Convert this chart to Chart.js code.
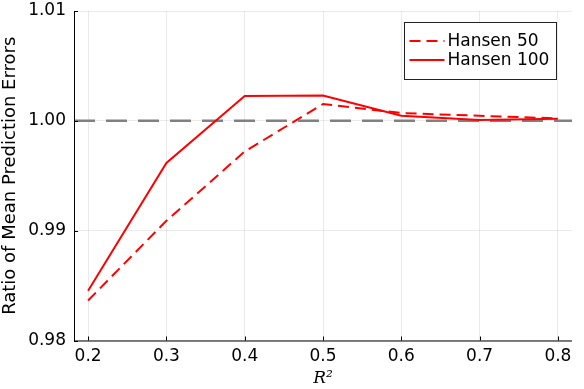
<!DOCTYPE html>
<html>
<head>
<meta charset="utf-8">
<script src="https://cdn.jsdelivr.net/npm/chart.js@4"></script>
<style>
  html, body { margin: 0; padding: 0; background: #fff; }
  #wrap { width: 584px; height: 389px; }
</style>
</head>
<body>
<div id="wrap"><canvas id="grafico"></canvas></div>
<script>
const rSquared = [0.2, 0.3, 0.4, 0.5, 0.6, 0.7, 0.8];
const hansen50 = [0.98364, 0.99090, 0.99721, 1.00153, 1.00071, 1.00046, 1.00022];
const hansen100 = [0.98453, 0.99616, 1.00226, 1.00231, 1.00046, 1.00007, 1.00019];
const xTicks = [0.2, 0.3, 0.4, 0.5, 0.6, 0.7, 0.8];
const yTicks = [0.98, 0.99, 1.00, 1.01];
const refValue = 1.0;

const fonte = 'DejaVu Sans';

function pontos(valores) {
  return rSquared.map((x, i) => ({ x: x, y: valores[i] }));
}

// reference line, inner ticks, legend box
const extras = {
  id: 'extras',
  beforeDatasetsDraw(chart) {
    const ctx = chart.ctx;
    const area = chart.chartArea;
    const y = chart.scales.y.getPixelForValue(refValue);
    ctx.save();
    ctx.strokeStyle = '#808080';
    ctx.lineWidth = 2.5;
    ctx.setLineDash([21, 11]);
    ctx.beginPath();
    ctx.moveTo(area.left, y);
    ctx.lineTo(area.right, y);
    ctx.stroke();
    ctx.restore();
  },
  afterDraw(chart) {
    const ctx = chart.ctx;
    const area = chart.chartArea;
    const sx = chart.scales.x, sy = chart.scales.y;
    ctx.save();
    ctx.strokeStyle = '#000';
    ctx.lineWidth = 1;
    ctx.beginPath();
    ctx.moveTo(area.left + 0.5, area.top);
    ctx.lineTo(area.left + 0.5, area.bottom + 0.5);
    ctx.lineTo(area.right, area.bottom + 0.5);
    xTicks.forEach(v => {
      const px = Math.round(sx.getPixelForValue(v)) + 0.5;
      ctx.moveTo(px, area.bottom);
      ctx.lineTo(px, area.bottom - 4);
    });
    yTicks.forEach(v => {
      const py = Math.round(sy.getPixelForValue(v)) + 0.5;
      ctx.moveTo(area.left, py);
      ctx.lineTo(area.left + 4, py);
    });
    ctx.stroke();

    // legend
    const bx = 404.5, by = 22.5, bw = 152, bh = 57;
    ctx.fillStyle = '#fff';
    ctx.fillRect(bx, by, bw, bh);
    ctx.strokeStyle = '#222';
    ctx.strokeRect(bx, by, bw, bh);
    ctx.font = '17px "' + fonte + '"';
    ctx.textBaseline = 'middle';
    chart.data.datasets.forEach((ds, i) => {
      const ly = by + 18.5 + i * 19;
      ctx.strokeStyle = ds.borderColor;
      ctx.lineWidth = 2;
      ctx.setLineDash(ds.borderDash || []);
      ctx.beginPath();
      ctx.moveTo(bx + 5, ly);
      ctx.lineTo(bx + 40, ly);
      ctx.stroke();
      ctx.setLineDash([]);
      ctx.fillStyle = '#000';
      ctx.fillText(ds.label, bx + 43, ly + 1);
    });
    ctx.restore();
  }
};

new Chart(document.getElementById('grafico'), {
  type: 'line',
  data: {
    datasets: [{
      label: 'Hansen 50',
      data: pontos(hansen50),
      borderColor: '#ff0000',
      borderWidth: 2,
      borderDash: [11, 6],
      pointRadius: 0,
      tension: 0
    }, {
      label: 'Hansen 100',
      data: pontos(hansen100),
      borderColor: '#ff0000',
      borderWidth: 2,
      pointRadius: 0,
      tension: 0
    }]
  },
  options: {
    responsive: true,
    maintainAspectRatio: false,
    animation: false,
    layout: { padding: { top: 11, right: 12, left: 0, bottom: 0 } },
    plugins: {
      legend: { display: false },
      tooltip: { enabled: false }
    },
    scales: {
      x: {
        type: 'linear',
        min: 0.182,
        max: 0.818,
        afterBuildTicks: s => { s.ticks = xTicks.map(v => ({ value: v })); },
        afterFit: s => { s.height = 48.5; s.paddingLeft = 0; s.paddingRight = 0; },
        grid: { color: 'rgba(0,0,0,0.08)', tickLength: 0, drawTicks: false },
        border: { display: false },
        ticks: {
          color: '#000',
          padding: 6,
          font: { family: fonte, size: 17 },
          callback: v => v.toFixed(1)
        },
        title: {
          display: true,
          text: 'R²',
          color: '#000',
          padding: { top: 0, bottom: 0 },
          font: { family: 'DejaVu Serif', size: 17, style: 'italic' }
        }
      },
      y: {
        min: 0.98,
        max: 1.01,
        afterBuildTicks: s => { s.ticks = yTicks.map(v => ({ value: v })); },
        afterFit: s => { s.width = 74; s.paddingTop = 0; s.paddingBottom = 0; },
        grid: { color: 'rgba(0,0,0,0.08)', tickLength: 0, drawTicks: false },
        border: { display: false },
        ticks: {
          color: '#000',
          padding: 8,
          font: { family: fonte, size: 17 },
          callback: v => v.toFixed(2)
        },
        title: {
          display: true,
          text: 'Ratio of Mean Prediction Errors',
          color: '#000',
          padding: { top: 0, bottom: 0 },
          font: { family: fonte, size: 18 }
        }
      }
    }
  },
  plugins: [extras]
});
</script>
</body>
</html>
